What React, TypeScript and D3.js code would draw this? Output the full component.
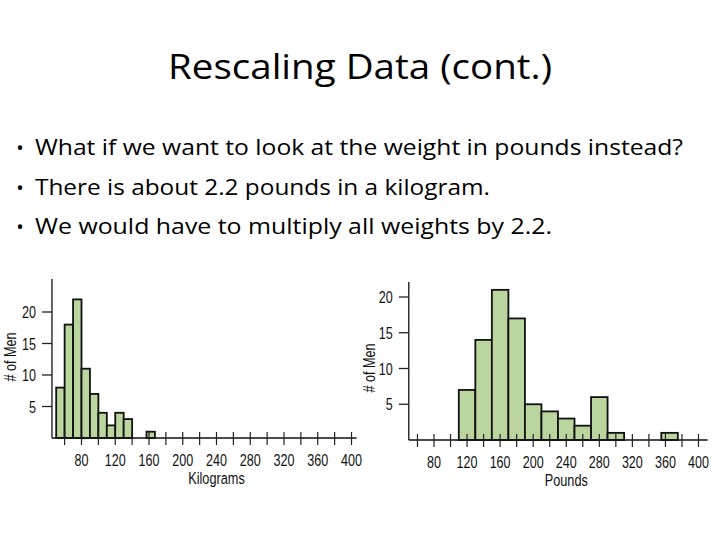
import React from 'react'
import * as d3 from 'd3'

// slide text
const title = 'Rescaling Data (cont.)'
const bullets = [
  'What if we want to look at the weight in pounds instead?',
  'There is about 2.2 pounds in a kilogram.',
  'We would have to multiply all weights by 2.2.',
]
// rendered widths of the text lines in the slide (px)
const titleWidth = 384
const bulletWidths = [648, 455, 517]

// histogram bins
const kgEdges = [50, 60, 70, 80, 90, 100, 110, 120, 130, 140]
const kgCounts = [8, 18, 22, 11, 7, 4, 2, 4, 3]
const kgOutlier = { x0: 157, x1: 167, n: 1 }

const lbEdges = [110, 130, 150, 170, 190, 210, 230, 250, 270, 290, 310]
const lbCounts = [7, 14, 21, 17, 5, 4, 3, 2, 6, 1]
const lbOutlier = { x0: 355, x1: 375, n: 1 }

const xTickValues = d3.range(60, 401, 20)
const xLabelValues = [80, 120, 160, 200, 240, 280, 320, 360, 400]
const yTickValues = [5, 10, 15, 20]

const FILL = '#bad59e'
const CHART_FONT = '"Liberation Sans", Arial, sans-serif'
const SLIDE_FONT = '"Open Sans", Lato, sans-serif'
const SQUEEZE = 0.74 // condensed look of the textbook figure

type Bin = { x0: number; x1: number; n: number }

const toBins = (edges: number[], counts: number[]): Bin[] =>
  counts.map((n, i) => ({ x0: edges[i], x1: edges[i + 1], n }))

const NarrowText: React.FC<{
  x: number
  y: number
  rotate?: number
  anchor?: 'start' | 'middle' | 'end'
  size?: number
  dy?: string
  children: React.ReactNode
}> = ({ x, y, rotate = 0, anchor = 'middle', size = 17, dy, children }) => (
  <text
    transform={`translate(${x},${y}) rotate(${rotate}) scale(${SQUEEZE},1)`}
    textAnchor={anchor}
    fontSize={size}
    dy={dy}
    fill="#111"
  >
    {children}
  </text>
)

const Histogram: React.FC<{
  bins: Bin[]
  xScale: d3.ScaleLinear<number, number>
  yScale: d3.ScaleLinear<number, number>
  axisFrom: number
  axisTo: number
  yTop: number
  xTitle: string
  yTitleX: number
  yTitleY: number
}> = ({ bins, xScale, yScale, axisFrom, axisTo, yTop, xTitle, yTitleX, yTitleY }) => {
  const x0 = xScale(axisFrom)
  const base = yScale(0)
  return (
    <g fontFamily={CHART_FONT}>
      {/* bars */}
      {bins.map((b, i) => (
        <rect
          key={i}
          x={xScale(b.x0)}
          y={yScale(b.n)}
          width={xScale(b.x1) - xScale(b.x0)}
          height={base - yScale(b.n)}
          fill={FILL}
          stroke="#111"
          strokeWidth={1.8}
        />
      ))}
      {/* y axis */}
      <line x1={x0} x2={x0} y1={yTop} y2={base} stroke="#111" strokeWidth={1.3} />
      {yTickValues.map(v => (
        <g key={v}>
          <line x1={x0 - 10} x2={x0} y1={yScale(v)} y2={yScale(v)} stroke="#222" strokeWidth={1.3} />
          <NarrowText x={x0 - 16} y={yScale(v)} anchor="end" dy="0.36em">
            {v}
          </NarrowText>
        </g>
      ))}
      <NarrowText x={yTitleX} y={yTitleY} rotate={-90}>
        # of Men
      </NarrowText>
      {/* x axis */}
      <line x1={x0} x2={xScale(axisTo)} y1={base} y2={base} stroke="#111" strokeWidth={1.5} />
      {xTickValues.map(v => (
        <line
          key={v}
          x1={xScale(v)}
          x2={xScale(v)}
          y1={base - 6}
          y2={base + 7}
          stroke="#222"
          strokeWidth={1.2}
        />
      ))}
      {xLabelValues.map(v => (
        <NarrowText key={v} x={xScale(v)} y={base + 28}>
          {v}
        </NarrowText>
      ))}
      <NarrowText x={(xScale(80) + xScale(400)) / 2} y={base + 46} size={17.2}>
        {xTitle}
      </NarrowText>
    </g>
  )
}

export default function App() {
  const width = 720
  const height = 540

  const xKg = d3.scaleLinear().domain([80, 400]).range([81.5, 351.5])
  const yKg = d3.scaleLinear().domain([0, 20]).range([438, 312])

  const xLb = d3.scaleLinear().domain([80, 400]).range([434, 698.5])
  const yLb = d3.scaleLinear().domain([0, 20]).range([440, 297])

  const kgBins = [...toBins(kgEdges, kgCounts), kgOutlier]
  const lbBins = [...toBins(lbEdges, lbCounts), lbOutlier]

  return (
    <svg
      width={width}
      height={height}
      style={{ position: 'absolute', left: 0, top: 0, background: '#fff' }}
    >
      <rect width={width} height={height} fill="#fff" />
      <text
        x={168}
        y={79}
        fontFamily={SLIDE_FONT}
        fontSize={34}
        textLength={titleWidth}
        lengthAdjust="spacingAndGlyphs"
        fill="#000"
      >
        {title}
      </text>
      {bullets.map((b, i) => (
        <g key={i} fontFamily={SLIDE_FONT} fill="#000">
          <text x={20} y={155 + i * 39.5} textAnchor="middle" fontSize={20}>•</text>
          <text
            x={35}
            y={155 + i * 39.5}
            fontSize={22}
            textLength={bulletWidths[i]}
            lengthAdjust="spacingAndGlyphs"
          >
            {b}
          </text>
        </g>
      ))}
      <Histogram
        bins={kgBins}
        xScale={xKg}
        yScale={yKg}
        axisFrom={45}
        axisTo={406}
        yTop={279}
        xTitle="Kilograms"
        yTitleX={16}
        yTitleY={357}
      />
      <Histogram
        bins={lbBins}
        xScale={xLb}
        yScale={yLb}
        axisFrom={49.5}
        axisTo={411}
        yTop={282}
        xTitle="Pounds"
        yTitleX={375}
        yTitleY={368}
      />
    </svg>
  )
}
